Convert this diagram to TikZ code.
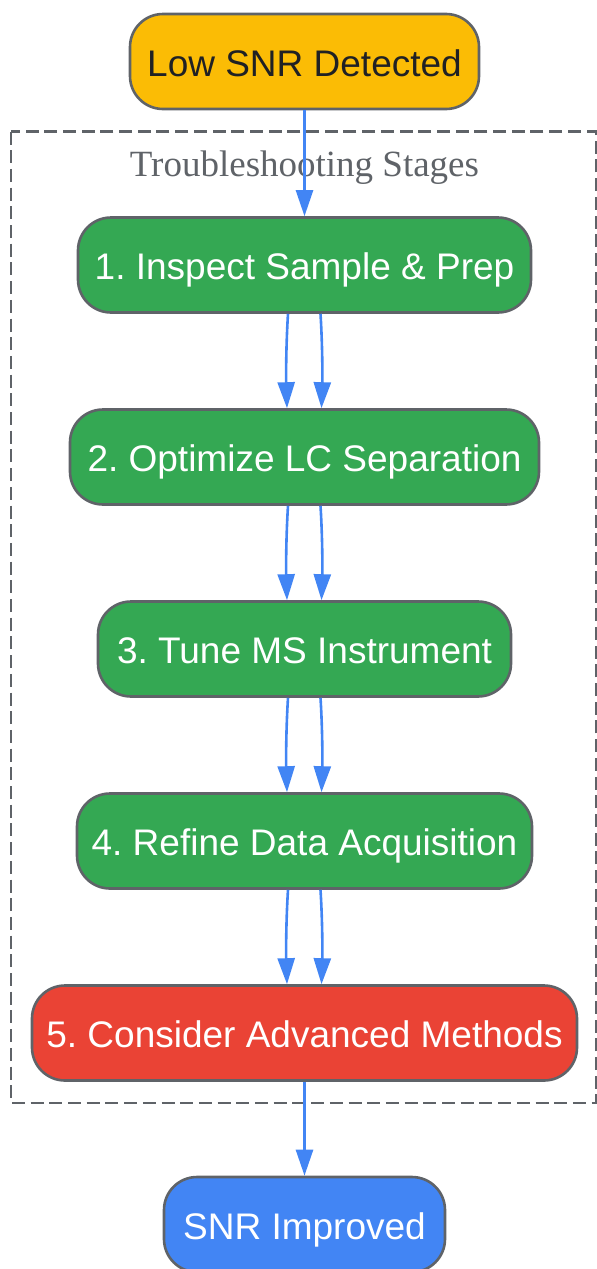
\documentclass[tikz,border=0pt]{standalone}
\usepackage{fontspec}
\setmainfont{Liberation Sans}
\newfontfamily\titlefont{Liberation Serif}
\usetikzlibrary{arrows.meta}
\definecolor{gyellow}{HTML}{FBBC05}
\definecolor{ggreen}{HTML}{34A853}
\definecolor{gred}{HTML}{EA4335}
\definecolor{gblue}{HTML}{4285F4}
\definecolor{ggray}{HTML}{5F6368}
\definecolor{gdark}{HTML}{202124}
\tikzset{
  box/.style={draw=ggray, line width=2.6pt, rounded corners=33pt, minimum height=95pt,
    inner sep=0pt, text height=32pt, text depth=3pt, font=\fontsize{37}{40}\selectfont, anchor=center},
  stage/.style={box, fill=ggreen, text=white},
  arr/.style={draw=gblue, line width=2.6pt, -{Triangle[length=26pt,width=17pt]}},
  cluster/.style={draw=ggray, line width=2.7pt, dash pattern=on 13pt off 5.7pt},
}
\frenchspacing
\begin{document}
\begin{tikzpicture}[x=1pt, y=-1pt]
\useasboundingbox (0,0) rectangle (597,1269);
\draw[cluster] (11,131.5) rectangle (596,1103);
\node[anchor=base, text=ggray, font=\titlefont\fontsize{37}{40}\selectfont, inner sep=0pt] (title) at (304.5,176) {Troubleshooting Stages};
\node[box, fill=gyellow, text=gdark, minimum width=349pt] (n0) at (304.5,61.5) {Low SNR Detected};
\node[stage, minimum width=453pt] (n1) at (304.5,265) {1. Inspect Sample \& Prep};
\node[stage, minimum width=469pt] (n2) at (304.5,457) {2. Optimize LC Separation};
\node[stage, minimum width=413pt] (n3) at (304.5,649) {3. Tune MS Instrument};
\node[stage, minimum width=455pt] (n4) at (304.5,841) {4. Refine Data Acquisition};
\node[box, fill=gred, text=white, minimum width=545pt] (n5) at (304.5,1033) {5. Consider Advanced Methods};
\node[box, fill=gblue, text=white, minimum width=281pt] (n6) at (304.5,1224.5) {SNR Improved};
\draw[arr] (n0.south) -- (n1.north);
\foreach \a/\b in {n1/n2, n2/n3, n3/n4, n4/n5}{
  \draw[arr] ([xshift=-16.5pt]\a.south) .. controls +(-2,32) and +(-1,-32) .. ([xshift=-17.5pt]\b.north);
  \draw[arr] ([xshift=16pt]\a.south) .. controls +(2,32) and +(1,-32) .. ([xshift=17pt]\b.north);
}
\draw[arr] (n5.south) -- (n6.north);
\end{tikzpicture}
\end{document}
